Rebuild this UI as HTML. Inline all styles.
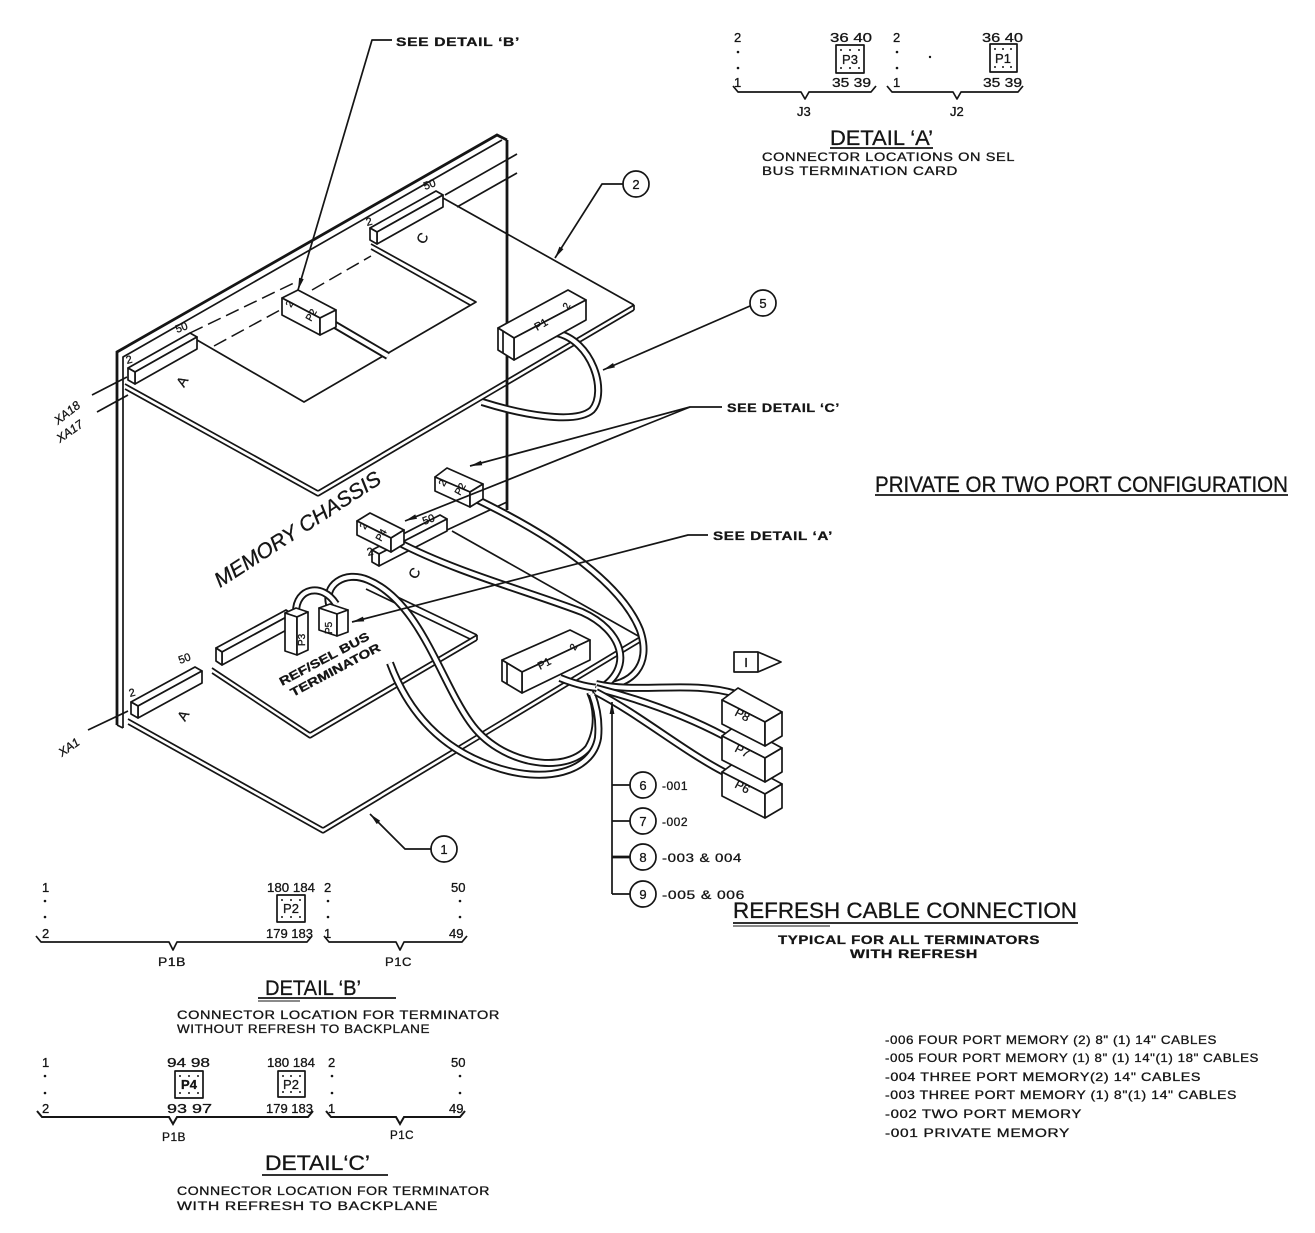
<!DOCTYPE html>
<html><head><meta charset="utf-8">
<style>
html,body{margin:0;padding:0;background:#fff;}
svg{display:block}
text{font-family:"Liberation Sans",sans-serif;fill:#151515;stroke:#151515;stroke-width:0.3;}
.l{fill:none;stroke:#151515;stroke-width:1.7;stroke-linejoin:round;}
.t{fill:none;stroke:#151515;stroke-width:2.8;}
.f{fill:#fff;stroke:#151515;stroke-width:1.7;stroke-linejoin:round;}
.tb{fill:none;stroke:#151515;stroke-width:8;}
.tw{fill:none;stroke:#fff;stroke-width:4.2;}
.d{fill:none;stroke:#151515;stroke-width:1.5;stroke-dasharray:14 6;}
.s{font-size:12px;letter-spacing:0.5px;}
.n{font-size:13px;}
.dot{fill:#151515;}
</style></head><body>
<svg width="1315" height="1233" viewBox="0 0 1315 1233" xmlns="http://www.w3.org/2000/svg">
<defs>
<marker id="a" viewBox="0 0 12 6" refX="12" refY="3" markerWidth="13" markerHeight="6" markerUnits="userSpaceOnUse" orient="auto"><path d="M0,0.6 L12,3 L0,5.4 z" fill="#151515"/></marker>
</defs>

<!-- ===== CHASSIS PANEL ===== -->
<polyline class="t" points="117,725 117,352 497,135 507,140"/>
<polyline class="l" points="123,728 123,357 502,140"/>
<line class="l" x1="117" y1="725" x2="123" y2="728"/>
<line class="t" x1="507" y1="140" x2="507" y2="510"/>
<line class="l" x1="445" y1="195" x2="517" y2="154"/>
<line class="l" x1="457" y1="207" x2="517" y2="173"/>
<line class="l" x1="447" y1="530" x2="507" y2="502"/>

<!-- ===== UPPER CARD ===== -->
<line class="l" x1="125" y1="384" x2="318" y2="491"/>
<line class="l" x1="125" y1="389" x2="318" y2="496"/>
<line class="l" x1="318" y1="491" x2="634" y2="305"/>
<line class="l" x1="318" y1="496" x2="634" y2="310"/>
<line class="l" x1="634" y1="305" x2="634" y2="310"/>
<line class="l" x1="634" y1="305" x2="443" y2="198"/>
<polyline class="l" points="197,340 304,402 476,302 371,244"/>
<line class="l" x1="371" y1="249" x2="470" y2="305"/>
<line class="d" x1="190" y1="333" x2="298" y2="281"/>
<line class="d" x1="214" y1="346" x2="282" y2="309"/>
<line class="d" x1="312" y1="290" x2="371" y2="256"/>

<!-- upper A connector -->
<polygon class="f" points="128,368 190,333 197,337 135,372"/>
<polygon class="f" points="135,372 197,337 197,349 135,384"/>
<polygon class="f" points="128,368 135,372 135,384 128,380"/>
<!-- upper C connector -->
<polygon class="f" points="370,228 436,191 443,195 377,232"/>
<polygon class="f" points="377,232 443,195 443,207 377,244"/>
<polygon class="f" points="370,228 377,232 377,244 370,240"/>

<!-- ===== LOWER CARD ===== -->
<line class="l" x1="128" y1="719" x2="323" y2="828"/>
<line class="l" x1="128" y1="724" x2="323" y2="833"/>
<line class="l" x1="323" y1="828" x2="640" y2="637"/>
<line class="l" x1="323" y1="833" x2="640" y2="642"/>
<line class="l" x1="640" y1="637" x2="640" y2="642"/>
<line class="l" x1="640" y1="637" x2="452" y2="531"/>

<!-- terminator card -->
<line class="l" x1="212" y1="668" x2="310" y2="733"/>
<line class="l" x1="212" y1="673" x2="310" y2="738"/>
<line class="l" x1="310" y1="733" x2="477" y2="635"/>
<line class="l" x1="310" y1="738" x2="477" y2="640"/>
<line class="l" x1="477" y1="635" x2="477" y2="640"/>
<line class="l" x1="477" y1="635" x2="368" y2="583"/>
<line class="l" x1="470" y1="639" x2="366" y2="589"/>

<!-- lower A connector -->
<polygon class="f" points="131,702 195,667 202,671 138,706"/>
<polygon class="f" points="138,706 202,671 202,683 138,718"/>
<polygon class="f" points="131,702 138,706 138,718 131,714"/>
<!-- terminator bar -->
<polygon class="f" points="216,648 286,610 292,614 222,652"/>
<polygon class="f" points="222,652 292,614 292,627 222,665"/>
<polygon class="f" points="216,648 222,652 222,665 216,661"/>
<!-- lower C connector -->
<polygon class="f" points="372,550 440,515 447,519 379,554"/>
<polygon class="f" points="379,554 447,519 447,531 379,566"/>
<polygon class="f" points="372,550 379,554 379,566 372,562"/>

<!-- ===== CABLES ===== -->
<g>
<path class="tb" d="M330,322 L388,356"/><path class="tw" d="M330,322 L388,356"/>
<path class="tb" d="M556,333 C592,340 608,392 592,410 C575,425 520,414 482,402"/>
<path class="tw" d="M556,333 C592,340 608,392 592,410 C575,425 520,414 482,402"/>
<path class="tb" d="M478,500 C560,540 622,585 640,630 C652,665 632,686 600,686"/>
<path class="tw" d="M478,500 C560,540 622,585 640,630 C652,665 632,686 600,686"/>
<path class="tb" d="M398,542 C455,572 530,592 582,612 C622,630 636,668 598,690"/>
<path class="tw" d="M398,542 C455,572 530,592 582,612 C622,630 636,668 598,690"/>
<path class="tb" d="M330,607 C322,585 345,570 368,580 C420,602 440,680 470,722 C500,765 565,775 588,748 C600,728 596,705 590,692"/>
<path class="tw" d="M330,607 C322,585 345,570 368,580 C420,602 440,680 470,722 C500,765 565,775 588,748 C600,728 596,705 590,692"/>
<path class="tb" d="M390,663 C408,712 440,748 492,766 C545,785 592,772 598,738 C600,718 595,702 592,694"/>
<path class="tw" d="M390,663 C408,712 440,748 492,766 C545,785 592,772 598,738 C600,718 595,702 592,694"/>
<path class="tb" d="M296,612 C296,588 322,582 336,604"/>
<path class="tw" d="M296,612 C296,588 322,582 336,604"/>
<path class="tb" d="M560,678 C575,684 590,688 602,688"/>
<path class="tw" d="M560,678 C575,684 590,688 602,688"/>
<path class="tb" d="M596,684 C640,694 690,680 736,694"/>
<path class="tw" d="M596,684 C640,694 690,680 736,694"/>
<path class="tb" d="M596,688 C650,702 690,718 724,736"/>
<path class="tw" d="M596,688 C650,702 690,718 724,736"/>
<path class="tb" d="M596,692 C640,715 682,750 724,772"/>
<path class="tw" d="M596,692 C640,715 682,750 724,772"/>
</g>

<!-- ===== BOXES ===== -->
<polygon class="f" points="282,298 298,290 336,310 320,318"/>
<polygon class="f" points="282,298 320,318 320,335 282,315"/>
<polygon class="f" points="320,318 336,310 336,327 320,335"/>
<polygon class="f" points="498,328 568,290 586,300 514,338"/>
<polygon class="f" points="514,338 586,300 586,320 514,360"/>
<polygon class="f" points="498,328 514,338 514,360 498,350"/>
<line class="l" x1="503" y1="331" x2="503" y2="353"/>
<polygon class="f" points="435,477 447,468 483,484 470,492"/>
<polygon class="f" points="435,477 470,492 470,507 435,491"/>
<polygon class="f" points="470,492 483,484 483,499 470,507"/>
<polygon class="f" points="357,521 370,513 404,530 391,538"/>
<polygon class="f" points="357,521 391,538 391,552 357,535"/>
<polygon class="f" points="391,538 404,530 404,544 391,552"/>
<polygon class="f" points="285,613 296,608 308,612 297,617"/>
<polygon class="f" points="285,613 297,617 297,655 285,651"/>
<polygon class="f" points="297,617 308,612 308,650 297,655"/>
<polygon class="f" points="319,608 330,604 348,610 337,614"/>
<polygon class="f" points="319,608 337,614 337,636 319,630"/>
<polygon class="f" points="337,614 348,610 348,632 337,636"/>
<polygon class="f" points="502,660 570,630 590,640 522,672"/>
<polygon class="f" points="522,672 590,640 590,660 522,693"/>
<polygon class="f" points="502,660 522,672 522,693 502,681"/>
<line class="l" x1="507" y1="663" x2="507" y2="684"/>
<polygon class="f" points="722,772 738,760 782,784 765,794"/>
<polygon class="f" points="722,772 765,794 765,818 722,796"/>
<polygon class="f" points="765,794 782,784 782,808 765,818"/>
<polygon class="f" points="722,736 738,724 782,748 765,758"/>
<polygon class="f" points="722,736 765,758 765,782 722,760"/>
<polygon class="f" points="765,758 782,748 782,772 765,782"/>
<polygon class="f" points="722,700 738,688 782,712 765,722"/>
<polygon class="f" points="722,700 765,722 765,746 722,724"/>
<polygon class="f" points="765,722 782,712 782,736 765,746"/>

<!-- box labels -->
<text font-size="10" transform="translate(291,308) rotate(-60)">2</text>
<text font-size="10" transform="translate(311,322) rotate(-60)">P2</text>
<text font-size="11" transform="translate(537,331) rotate(-30)">P1</text>
<text font-size="10" transform="translate(568,310) rotate(-60)">2</text>
<text font-size="10" transform="translate(444,487) rotate(-60)">2</text>
<text font-size="10" transform="translate(460,496) rotate(-60)">P2</text>
<text font-size="10" transform="translate(365,530) rotate(-60)">2</text>
<text font-size="10" transform="translate(381,542) rotate(-60)">P4</text>
<text font-size="10" transform="translate(305,646) rotate(-90)">P3</text>
<text font-size="10" transform="translate(332,634) rotate(-90)">P5</text>
<text font-size="11" transform="translate(540,670) rotate(-28)">P1</text>
<text font-size="10" transform="translate(575,651) rotate(-60)">2</text>
<text font-size="12" transform="translate(734,715) rotate(28)">P8</text>
<text font-size="12" transform="translate(734,751) rotate(28)">P7</text>
<text font-size="12" transform="translate(734,787) rotate(28)">P6</text>

<!-- connector labels -->
<text font-size="11" transform="translate(127,364) rotate(-15)">2</text>
<text font-size="11" transform="translate(177,333) rotate(-20)">50</text>
<text font-size="14" transform="translate(184,388) rotate(-60)">A</text>
<text font-size="11" transform="translate(367,226) rotate(-15)">2</text>
<text font-size="11" transform="translate(425,190) rotate(-20)">50</text>
<text font-size="14" transform="translate(424,245) rotate(-60)">C</text>
<text font-size="11" transform="translate(130,697) rotate(-15)">2</text>
<text font-size="11" transform="translate(180,664) rotate(-20)">50</text>
<text font-size="14" transform="translate(185,722) rotate(-60)">A</text>
<text font-size="11" transform="translate(368,556) rotate(-15)">2</text>
<text font-size="11" transform="translate(424,525) rotate(-20)">50</text>
<text font-size="14" transform="translate(416,580) rotate(-60)">C</text>

<!-- XA labels -->
<line class="l" x1="92" y1="395" x2="127" y2="377"/>
<line class="l" x1="97" y1="412" x2="128" y2="395"/>
<line class="l" x1="88" y1="730" x2="128" y2="711"/>
<text font-size="12" font-style="italic" transform="translate(58,425) rotate(-38)">XA18</text>
<text font-size="12" font-style="italic" transform="translate(60,443) rotate(-35)">XA17</text>
<text font-size="12" font-style="italic" transform="translate(62,757) rotate(-35)">XA1</text>

<!-- chassis text -->
<text font-size="21" font-style="italic" textLength="194" lengthAdjust="spacingAndGlyphs" transform="translate(220,588) rotate(-33)">MEMORY CHASSIS</text>
<text font-size="12" font-weight="bold" textLength="100" lengthAdjust="spacingAndGlyphs" transform="translate(282,686) rotate(-28)">REF/SEL BUS</text>
<text font-size="12" font-weight="bold" textLength="100" lengthAdjust="spacingAndGlyphs" transform="translate(293,697) rotate(-28)">TERMINATOR</text>

<!-- ===== LEADERS ===== -->
<polyline class="l" points="392,40 372,40 298,290" marker-end="url(#a)"/>
<polyline class="l" points="623,184 602,184 555,258" marker-end="url(#a)"/>
<line class="l" x1="750" y1="306" x2="603" y2="370" marker-end="url(#a)"/>
<polyline class="l" points="722,407 690,407 470,466" marker-end="url(#a)"/>
<line class="l" x1="690" y1="407" x2="405" y2="521" marker-end="url(#a)"/>
<polyline class="l" points="708,535 688,535 352,622" marker-end="url(#a)"/>
<polyline class="l" points="431,849 405,849 370,814" marker-end="url(#a)"/>
<line class="l" x1="612" y1="894" x2="612" y2="702" marker-end="url(#a)"/>
<line class="l" x1="612" y1="785" x2="630" y2="785"/>
<line class="l" x1="612" y1="821" x2="630" y2="821"/>
<line class="t" x1="612" y1="857" x2="630" y2="857"/>
<line class="l" x1="612" y1="894" x2="630" y2="894"/>

<circle class="l" cx="636" cy="184" r="13"/><text class="n" x="636" y="189" text-anchor="middle">2</text>
<circle class="l" cx="763" cy="303" r="13"/><text class="n" x="763" y="308" text-anchor="middle">5</text>
<circle class="l" cx="444" cy="849" r="13"/><text class="n" x="444" y="854" text-anchor="middle">1</text>
<circle class="l" cx="643" cy="785" r="13"/><text class="n" x="643" y="790" text-anchor="middle">6</text>
<circle class="l" cx="643" cy="821" r="13"/><text class="n" x="643" y="826" text-anchor="middle">7</text>
<circle class="l" cx="643" cy="857" r="13"/><text class="n" x="643" y="862" text-anchor="middle">8</text>
<circle class="l" cx="643" cy="894" r="13"/><text class="n" x="643" y="899" text-anchor="middle">9</text>
<text class="s" x="662" y="790">-001</text>
<text class="s" x="662" y="826">-002</text>
<text class="s" x="662" y="862" textLength="80" lengthAdjust="spacingAndGlyphs">-003 &amp; 004</text>
<text class="s" x="662" y="899" textLength="83" lengthAdjust="spacingAndGlyphs">-005 &amp; 006</text>

<!-- I tag -->
<polygon class="l" points="734,652 758,652 781,662 758,672 734,672"/>
<line class="l" x1="758" y1="652" x2="758" y2="672"/>
<text font-size="13" x="746" y="667" text-anchor="middle">I</text>

<!-- leader texts -->
<text class="s" font-weight="bold" x="396" y="46" textLength="124" lengthAdjust="spacingAndGlyphs">SEE DETAIL ‘B’</text>
<text class="s" font-weight="bold" x="727" y="412" textLength="113" lengthAdjust="spacingAndGlyphs">SEE DETAIL ‘C’</text>
<text class="s" font-weight="bold" x="713" y="540" textLength="120" lengthAdjust="spacingAndGlyphs">SEE DETAIL ‘A’</text>

<text font-size="22" x="875" y="492" textLength="413" lengthAdjust="spacingAndGlyphs">PRIVATE OR TWO PORT CONFIGURATION</text>
<line class="l" x1="875" y1="495" x2="1288" y2="495"/>

<text font-size="22" x="733" y="918" textLength="344" lengthAdjust="spacingAndGlyphs">REFRESH CABLE CONNECTION</text>
<line class="l" x1="733" y1="923" x2="1078" y2="923"/>
<line class="l" x1="733" y1="926" x2="830" y2="926" style="stroke-width:1"/>
<text class="s" font-weight="bold" x="778" y="944" textLength="262" lengthAdjust="spacingAndGlyphs">TYPICAL FOR ALL TERMINATORS</text>
<text class="s" font-weight="bold" x="850" y="958" textLength="128" lengthAdjust="spacingAndGlyphs">WITH REFRESH</text>

<!-- ===== DETAIL A ===== -->
<g>
<text class="n" x="734" y="42">2</text>
<circle class="dot" cx="738" cy="52" r="1.3"/><circle class="dot" cx="738" cy="68" r="1.3"/>
<text class="n" x="734" y="87">1</text>
<text class="n" x="830" y="42" textLength="42" lengthAdjust="spacingAndGlyphs">36 40</text>
<rect class="l" x="836" y="45" width="28" height="28"/>
<circle class="dot" cx="841" cy="50" r="1"/><circle class="dot" cx="850" cy="50" r="1"/><circle class="dot" cx="859" cy="50" r="1"/>
<circle class="dot" cx="841" cy="68" r="1"/><circle class="dot" cx="850" cy="68" r="1"/><circle class="dot" cx="859" cy="68" r="1"/>
<text class="n" x="850" y="64" text-anchor="middle">P3</text>
<text class="n" x="832" y="87" textLength="39" lengthAdjust="spacingAndGlyphs">35 39</text>
<path class="l" d="M733,86 L738,92 L801,92 L805,99 L809,92 L871,92 L876,86"/>
<text class="n" x="797" y="116">J3</text>

<text class="n" x="893" y="42">2</text>
<circle class="dot" cx="897" cy="52" r="1.3"/><circle class="dot" cx="897" cy="68" r="1.3"/><circle class="dot" cx="930" cy="57" r="1.2"/>
<text class="n" x="893" y="87">1</text>
<text class="n" x="982" y="42" textLength="41" lengthAdjust="spacingAndGlyphs">36 40</text>
<rect class="l" x="990" y="44" width="27" height="28"/>
<circle class="dot" cx="995" cy="49" r="1"/><circle class="dot" cx="1003" cy="49" r="1"/><circle class="dot" cx="1011" cy="49" r="1"/>
<circle class="dot" cx="995" cy="67" r="1"/><circle class="dot" cx="1003" cy="67" r="1"/><circle class="dot" cx="1011" cy="67" r="1"/>
<text class="n" x="1003" y="63" text-anchor="middle">P1</text>
<text class="n" x="983" y="87" textLength="39" lengthAdjust="spacingAndGlyphs">35 39</text>
<path class="l" d="M887,86 L892,92 L953,92 L957,99 L961,92 L1018,92 L1023,86"/>
<text class="n" x="950" y="116">J2</text>

<text font-size="21" x="830" y="145" textLength="103" lengthAdjust="spacingAndGlyphs">DETAIL ‘A’</text>
<line class="l" x1="830" y1="148" x2="933" y2="148"/>
<text class="s" x="762" y="161" textLength="253" lengthAdjust="spacingAndGlyphs">CONNECTOR LOCATIONS ON SEL</text>
<text class="s" x="762" y="175" textLength="196" lengthAdjust="spacingAndGlyphs">BUS TERMINATION CARD</text>
</g>

<!-- ===== DETAIL B ===== -->
<g>
<text class="n" x="42" y="892">1</text>
<circle class="dot" cx="45" cy="901" r="1.3"/><circle class="dot" cx="45" cy="917" r="1.3"/>
<text class="n" x="42" y="938">2</text>
<text class="n" x="267" y="892" textLength="48" lengthAdjust="spacingAndGlyphs">180 184</text>
<rect class="l" x="277" y="895" width="28" height="27"/>
<circle class="dot" cx="282" cy="900" r="1"/><circle class="dot" cx="291" cy="900" r="1"/><circle class="dot" cx="300" cy="900" r="1"/>
<circle class="dot" cx="282" cy="917" r="1"/><circle class="dot" cx="291" cy="917" r="1"/><circle class="dot" cx="300" cy="917" r="1"/>
<text class="n" x="291" y="913" text-anchor="middle">P2</text>
<text class="n" x="266" y="938" textLength="47" lengthAdjust="spacingAndGlyphs">179 183</text>
<text class="n" x="324" y="892">2</text>
<circle class="dot" cx="328" cy="901" r="1.3"/><circle class="dot" cx="328" cy="917" r="1.3"/>
<text class="n" x="324" y="938">1</text>
<text class="n" x="451" y="892">50</text>
<circle class="dot" cx="460" cy="901" r="1.3"/><circle class="dot" cx="460" cy="917" r="1.3"/>
<text class="n" x="449" y="938">49</text>
<path class="l" d="M36,936 L41,942 L169,942 L173,950 L177,942 L307,942 L312,936"/>
<path class="l" d="M324,936 L329,942 L396,942 L400,950 L404,942 L462,942 L467,936"/>
<text class="s" x="158" y="966" textLength="28" lengthAdjust="spacingAndGlyphs">P1B</text>
<text class="s" x="385" y="966" textLength="27" lengthAdjust="spacingAndGlyphs">P1C</text>
<text font-size="21" x="265" y="995" textLength="96" lengthAdjust="spacingAndGlyphs">DETAIL ‘B’</text>
<line class="l" x1="258" y1="998" x2="396" y2="998"/>
<line class="l" x1="258" y1="1001" x2="300" y2="1001" style="stroke-width:1"/>
<text class="s" x="177" y="1019" textLength="323" lengthAdjust="spacingAndGlyphs">CONNECTOR LOCATION FOR TERMINATOR</text>
<text class="s" x="177" y="1033" textLength="253" lengthAdjust="spacingAndGlyphs">WITHOUT  REFRESH TO BACKPLANE</text>
</g>

<!-- ===== DETAIL C ===== -->
<g>
<text class="n" x="42" y="1067">1</text>
<circle class="dot" cx="45" cy="1076" r="1.3"/><circle class="dot" cx="45" cy="1093" r="1.3"/>
<text class="n" x="42" y="1113">2</text>
<text class="n" x="167" y="1067" textLength="43" lengthAdjust="spacingAndGlyphs">94 98</text>
<rect class="l" x="175" y="1071" width="28" height="27"/>
<circle class="dot" cx="180" cy="1076" r="1"/><circle class="dot" cx="189" cy="1076" r="1"/><circle class="dot" cx="198" cy="1076" r="1"/>
<circle class="dot" cx="180" cy="1093" r="1"/><circle class="dot" cx="189" cy="1093" r="1"/><circle class="dot" cx="198" cy="1093" r="1"/>
<text class="n" x="189" y="1089" text-anchor="middle" font-weight="bold">P4</text>
<text class="n" x="167" y="1113" textLength="45" lengthAdjust="spacingAndGlyphs">93 97</text>
<text class="n" x="267" y="1067" textLength="48" lengthAdjust="spacingAndGlyphs">180 184</text>
<rect class="l" x="278" y="1071" width="27" height="26"/>
<circle class="dot" cx="283" cy="1076" r="1"/><circle class="dot" cx="291" cy="1076" r="1"/><circle class="dot" cx="300" cy="1076" r="1"/>
<circle class="dot" cx="283" cy="1092" r="1"/><circle class="dot" cx="291" cy="1092" r="1"/><circle class="dot" cx="300" cy="1092" r="1"/>
<text class="n" x="291" y="1089" text-anchor="middle">P2</text>
<text class="n" x="266" y="1113" textLength="47" lengthAdjust="spacingAndGlyphs">179 183</text>
<text class="n" x="328" y="1067">2</text>
<circle class="dot" cx="332" cy="1076" r="1.3"/><circle class="dot" cx="332" cy="1093" r="1.3"/>
<text class="n" x="328" y="1113">1</text>
<text class="n" x="451" y="1067">50</text>
<circle class="dot" cx="460" cy="1076" r="1.3"/><circle class="dot" cx="460" cy="1093" r="1.3"/>
<text class="n" x="449" y="1113">49</text>
<path class="t" d="M37,1111 L42,1117 L169,1117 L173,1124 L177,1117 L308,1117 L313,1111" style="stroke-width:2"/>
<path class="t" d="M326,1111 L331,1117 L396,1117 L400,1124 L404,1117 L460,1117 L465,1111" style="stroke-width:2"/>
<text class="s" x="162" y="1141" textLength="24" lengthAdjust="spacingAndGlyphs">P1B</text>
<text class="s" x="390" y="1139" textLength="24" lengthAdjust="spacingAndGlyphs">P1C</text>
<text font-size="21" x="265" y="1170" textLength="105" lengthAdjust="spacingAndGlyphs">DETAIL‘C’</text>
<line class="l" x1="262" y1="1175" x2="388" y2="1175"/>
<text class="s" x="177" y="1195" textLength="313" lengthAdjust="spacingAndGlyphs">CONNECTOR LOCATION FOR TERMINATOR</text>
<text class="s" x="177" y="1210" textLength="261" lengthAdjust="spacingAndGlyphs">WITH REFRESH TO BACKPLANE</text>
</g>

<!-- ===== LEGEND ===== -->
<g class="s">
<text x="885" y="1044" textLength="332" lengthAdjust="spacingAndGlyphs">-006 FOUR PORT MEMORY (2) 8" (1) 14" CABLES</text>
<text x="885" y="1062" textLength="374" lengthAdjust="spacingAndGlyphs">-005 FOUR PORT MEMORY (1) 8" (1) 14"(1) 18" CABLES</text>
<text x="885" y="1081" textLength="316" lengthAdjust="spacingAndGlyphs">-004 THREE PORT MEMORY(2) 14" CABLES</text>
<text x="885" y="1099" textLength="352" lengthAdjust="spacingAndGlyphs">-003 THREE PORT MEMORY (1) 8"(1) 14" CABLES</text>
<text x="885" y="1118" textLength="197" lengthAdjust="spacingAndGlyphs">-002 TWO PORT MEMORY</text>
<text x="885" y="1137" textLength="185" lengthAdjust="spacingAndGlyphs">-001 PRIVATE MEMORY</text>
</g>
</svg>
</body></html>
